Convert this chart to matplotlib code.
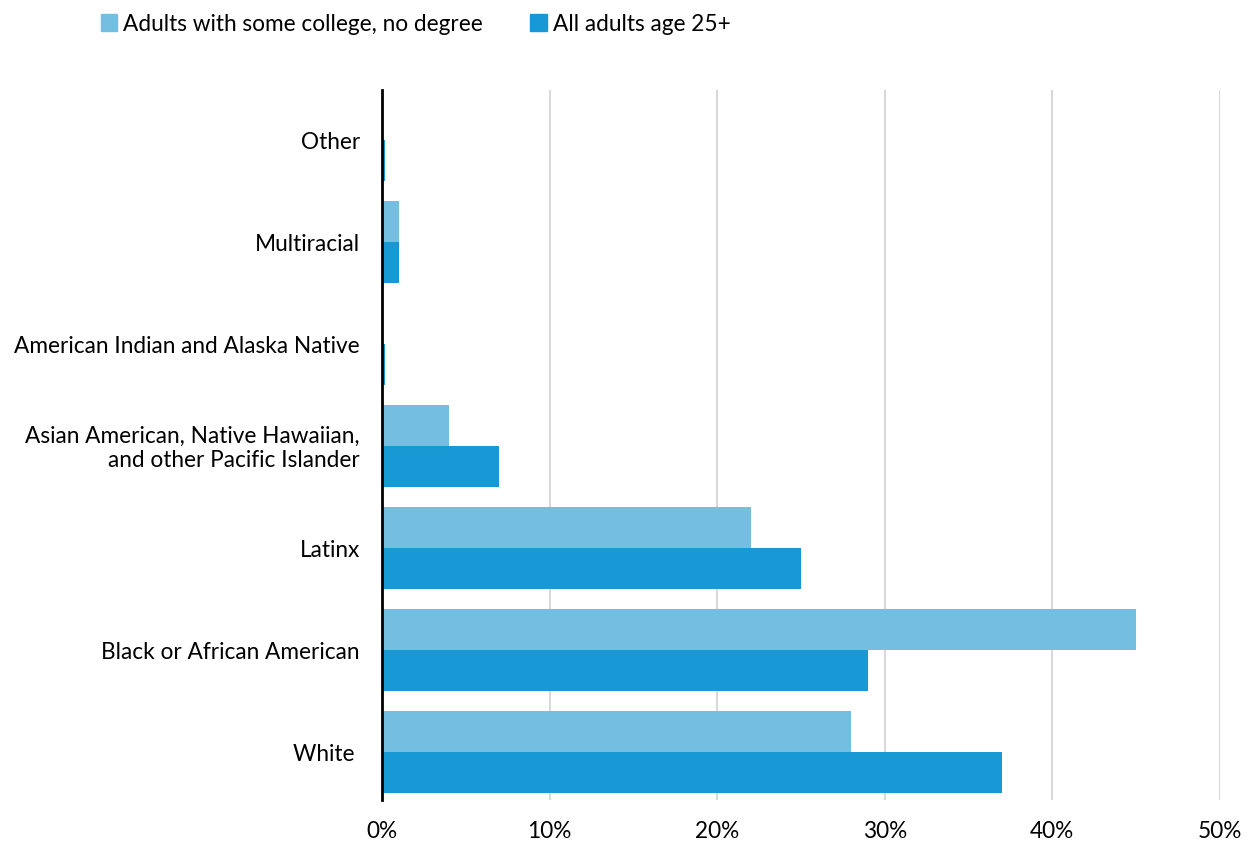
import numpy as np
import matplotlib.pyplot as plt
from matplotlib.patches import Patch

plt.rcParams['font.family'] = ['Lato', 'DejaVu Sans']

# Categories listed bottom to top
categories = ['White ', 'Black or African American', 'Latinx',
              'Asian American, Native Hawaiian,\nand other Pacific Islander',
              'American Indian and Alaska Native', 'Multiracial', 'Other']
some_college = [28, 45, 22, 4, 0, 1, 0]
all_adults = [37, 29, 25, 7, 0.2, 1, 0.2]
xticks = [0, 10, 20, 30, 40, 50]

light = '#74BEE1'
dark = '#1899D6'
fs = 16.3

fig = plt.figure(figsize=(12.52, 8.46), dpi=100)
ax = fig.add_axes([0.3051, 0.0544, 0.6693, 0.8392])

y = np.arange(len(categories))
h = 0.4
ax.barh(y + h / 2, some_college, height=h, color=light, zorder=3)
ax.barh(y - h / 2, all_adults, height=h, color=dark, zorder=3)

ax.set_xlim(0, 50)
ax.set_ylim(-0.47, 6.49)
ax.set_xticks(xticks)
ax.set_xticklabels([f'{t}%' for t in xticks], fontsize=fs)
ax.set_yticks(y - 0.02)
ax.set_yticklabels(categories, fontsize=fs, ha='right', va='center')
ax.tick_params(axis='x', length=0, pad=15)
ax.tick_params(axis='y', length=0, pad=16)

ax.grid(axis='x', color='#D9D9D9', linewidth=1.5, zorder=0)
for s in ['top', 'right', 'bottom']:
    ax.spines[s].set_visible(False)
ax.spines['left'].set_color('black')
ax.spines['left'].set_linewidth(2)
ax.spines['left'].set_zorder(4)

handles = [Patch(color=light, label='Adults with some college, no degree'),
           Patch(color=dark, label='All adults age 25+')]
fig.legend(handles=handles, loc='upper left', bbox_to_anchor=(0.064, 1.008),
           ncol=2, frameon=False, fontsize=fs, handlelength=0.75,
           handleheight=0.75, handletextpad=0.25, columnspacing=2.1)

fig.savefig('out.png', dpi=100)
